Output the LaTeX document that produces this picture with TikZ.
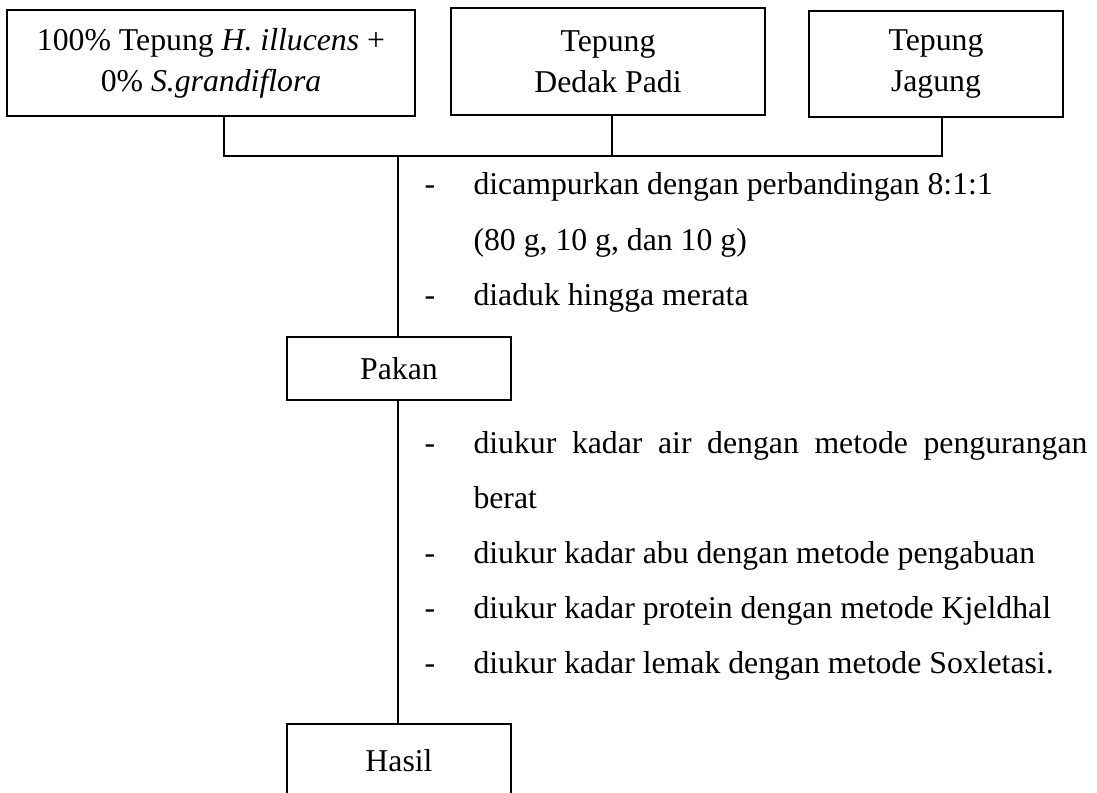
\documentclass[tikz,border=0pt]{standalone}
\usepackage{fontspec}
\setmainfont{Liberation Serif}
\usepackage{tikz}
\usetikzlibrary{positioning,calc}
\tikzset{
    every node/.style={font=\fontsize{12.7pt}{16.4pt}\selectfont},
    flowbox/.style={draw,line width=0.7pt,align=center,inner sep=2pt},
    itemtext/.style={anchor=base west,inner sep=0pt},
    dashmark/.style={anchor=base,inner sep=0pt},
    link/.style={draw,line width=0.7pt}
}

\begin{document}
\begin{tikzpicture}[x=0.4pt,y=-0.4pt]
    \clip (0,0) rectangle (1097,792);
    \node[flowbox,minimum width=163.2pt,minimum height=42.4pt] (b1) at (211,63) {100\% Tepung \textit{H. illucens} +\\0\% \textit{S.grandiflora}};
    \node[flowbox,minimum width=125.6pt,minimum height=42.8pt] (b2) at (608,61.5) {Tepung\\Dedak Padi};
    \node[flowbox,minimum width=101.6pt,minimum height=42.4pt] (b3) at (936,64) {Tepung\\Jagung};
    \coordinate (jn) at (398,156);
    \node[flowbox,minimum width=89.6pt,minimum height=25.2pt] (pakan) at (399,368.5) {Pakan};
    \node[flowbox,minimum width=89.6pt,minimum height=29.6pt,anchor=north] (hasil) at (399,723) {Hasil};
    \node[dashmark] (d1) at (430,195) {-};
    \node[itemtext] (t1) at (473,195) {dicampurkan dengan perbandingan 8:1:1};
    \node[itemtext] (t1b) at (473,250) {(80 g, 10 g, dan 10 g)};
    \node[dashmark] (d2) at (430,305) {-};
    \node[itemtext] (t2) at (473,305) {diaduk hingga merata};
    \node[dashmark] (d3) at (430,453) {-};
    \node[itemtext] (t3) at (473,453) {\makebox[245.6pt][s]{diukur kadar air dengan metode pengurangan}};
    \node[itemtext] (t3b) at (473,508) {berat};
    \node[dashmark] (d4) at (430,563) {-};
    \node[itemtext] (t4) at (473,563) {diukur kadar abu dengan metode pengabuan};
    \node[dashmark] (d5) at (430,618) {-};
    \node[itemtext] (t5) at (473,618) {diukur kadar protein dengan metode Kjeldhal};
    \node[dashmark] (d6) at (430,673) {-};
    \node[itemtext] (t6) at (473,673) {diukur kadar lemak dengan metode Soxletasi.};
    \draw[link] ([xshift=5.2pt]b1.south) |- (jn) -| ([xshift=2.4pt]b3.south);
    \draw[link] ([xshift=1.6pt]b2.south) -- ([xshift=1.6pt]b2.south |- jn);
    \draw[link] (jn) -- (jn |- pakan.north);
    \draw[link] (jn |- pakan.south) -- (jn |- hasil.north);
\end{tikzpicture}
\end{document}
